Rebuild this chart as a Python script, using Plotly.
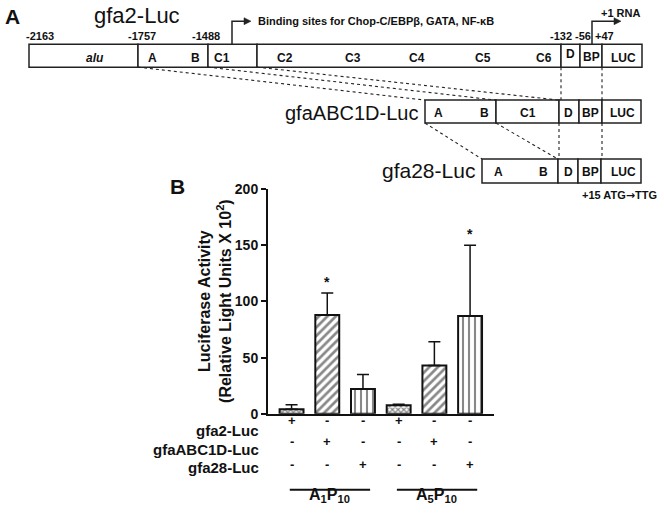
import plotly.graph_objects as go

W, H = 664, 515
FONT = "Arial, Liberation Sans, sans-serif"

# ---------------- data (panel B) ----------------
bar_index = [0, 1, 2, 3, 4, 5]
means = [4, 88, 22, 7.5, 43, 87]
err_top = [8, 107.5, 35, 8.6, 64, 150]
patterns = ["x", "/", "|", "x", "/", "|"]
significant = [False, True, False, False, False, True]
y_ticks = [0, 50, 100, 150, 200]
row_labels = ["gfa2-Luc", "gfaABC1D-Luc", "gfa28-Luc"]
signs = [
    ["+", "-", "-", "+", "-", "-"],
    ["-", "+", "-", "-", "+", "-"],
    ["-", "-", "+", "-", "-", "+"],
]
groups = [("A<sub>1</sub>P<sub>10</sub>", 0, 2), ("A<sub>5</sub>P<sub>10</sub>", 3, 5)]

# ---------------- panel A schematic labels ----------------
c1_name = "gfa2-Luc"
c1_segments = ["<i>alu</i>", "A", "B", "C1", "C2", "C3", "C4", "C5", "C6", "D", "BP", "LUC"]
c1_positions = ["-2163", "-1757", "-1488", "-132", "-56", "+47"]
c2_name = "gfaABC1D-Luc"
c2_segments = ["A", "B", "C1", "D", "BP", "LUC"]
c3_name = "gfa28-Luc"
c3_segments = ["A", "B", "D", "BP", "LUC"]
binding_text = "Binding sites for Chop-C/EBPβ, GATA, NF-κB"
rna_text = "+1 RNA"
mut_text = "+15 ATG<span style='font-family:DejaVu Sans'>→</span>TTG"

# the photographed page maps figure px -> picture px as y' = OFF + SC*y
OFF, SC = 7.8, 0.9699


def px(x):
    return x / W


def fy(t):
    """figure-pixel y for a wanted picture-pixel y"""
    return (t - OFF) / SC


def py(t):
    return 1 - fy(t) / H


shapes = []
annotations = []


def line(x0, y0, x1, y1, dash="solid", width=1.5, color="#222"):
    shapes.append(dict(type="line", xref="paper", yref="paper",
                       x0=px(x0), y0=py(y0), x1=px(x1), y1=py(y1),
                       line=dict(color=color, width=width, dash=dash)))


def rect(x0, y0, x1, y1):
    shapes.append(dict(type="rect", xref="paper", yref="paper",
                       x0=px(x0), y0=py(y0), x1=px(x1), y1=py(y1),
                       line=dict(color="#222", width=1.5), fillcolor="white"))


def text(x, y, t, size=12, bold=True, xanchor="center", yanchor="middle", color="#111"):
    annotations.append(dict(xref="paper", yref="paper", x=px(x), y=py(y),
                            text=("<b>%s</b>" % t) if bold else t, showarrow=False,
                            xanchor=xanchor, yanchor=yanchor,
                            font=dict(family=FONT, size=size, color=color)))


def arrow(xv, ybot, ytop, xend):
    shapes.append(dict(type="path", xref="paper", yref="paper",
                       path="M %f,%f L %f,%f L %f,%f" % (px(xv), py(ybot), px(xv), py(ytop), px(xend - 5), py(ytop)),
                       line=dict(color="#222", width=1.5)))
    shapes.append(dict(type="path", xref="paper", yref="paper",
                       path="M %f,%f L %f,%f L %f,%f Z" % (px(xend - 7), py(ytop - 3.5), px(xend), py(ytop), px(xend - 7), py(ytop + 3.5)),
                       line=dict(color="#222", width=0.5), fillcolor="#222"))


# ---- construct 1 ----
c1_bounds = [29, 138, 208, 257, 561, 580, 602, 642]
for a, b in zip(c1_bounds[:-1], c1_bounds[1:]):
    rect(a, 44, b, 67)
c1_lx = [95, 152, 195, 222, 285, 353, 417, 483, 544, 570, 591, 623]
c1_ly = [58, 58, 58, 58, 58, 58, 58, 58, 58, 54, 57, 58]
for t, x, y in zip(c1_segments, c1_lx, c1_ly):
    text(x, y, t, size=12)
for t, x in zip(c1_positions, [40, 142, 206, 561, 583, 604]):
    text(x, 36, t, size=11)
text(137, 15, c1_name, size=22, bold=False)

# ---- construct 2 ----
c2_bounds = [425, 496, 559, 579, 602, 641]
for a, b in zip(c2_bounds[:-1], c2_bounds[1:]):
    rect(a, 100, b, 123)
for t, x in zip(c2_segments, [438, 484, 528, 568, 590, 622]):
    text(x, 113, t, size=12)
text(420, 113, c2_name, size=20, bold=False, xanchor="right")

# ---- construct 3 ----
c3_bounds = [482, 558, 578, 601, 641]
for a, b in zip(c3_bounds[:-1], c3_bounds[1:]):
    rect(a, 159, b, 183)
for t, x in zip(c3_segments, [498, 543, 568, 590, 623]):
    text(x, 172, t, size=12)
text(477, 170, c3_name, size=21, bold=False, xanchor="right")
text(619, 195, mut_text, size=11)

# ---- dashed connectors ----
for (x0, y0, x1, y1) in [(138, 67, 425, 100), (208, 67, 496, 100), (257, 67, 559, 100),
                         (561, 67, 561, 100), (602, 67, 602, 100),
                         (425, 123, 482, 159), (496, 123, 558, 159),
                         (559, 123, 559, 159), (602, 123, 602, 159)]:
    line(x0, y0, x1, y1, dash="3px,3px", width=1.1)

# ---- arrows ----
arrow(232, 44, 21, 251)
text(256, 21, binding_text, size=11, xanchor="left")
arrow(592, 44, 21, 621)
text(620, 13, rna_text, size=11)

# panel letters
text(3, 16, "A", size=21, xanchor="left")
text(168, 186, "B", size=21, xanchor="left")

# ---------------- panel B bar chart ----------------
fig = go.Figure()
fig.add_trace(go.Bar(
    x=bar_index, y=means, width=0.67,
    marker=dict(color="white",
                line=dict(color="#111", width=2),
                pattern=dict(shape=patterns, fgcolor="#111", bgcolor="white",
                             size=[4, 6, 6, 4, 6, 6], solidity=[0.55, 0.45, 0.35, 0.55, 0.45, 0.35])),
    error_y=dict(type="data", symmetric=False,
                 array=[e - m for e, m in zip(err_top, means)],
                 arrayminus=[0] * len(means),
                 color="#111", thickness=1.5, width=6),
    showlegend=False, hoverinfo="skip",
))

for i, s in enumerate(significant):
    if s:
        annotations.append(dict(xref="x", yref="y", x=bar_index[i], y=err_top[i] + 1,
                                text="<b>*</b>", showarrow=False, yanchor="bottom",
                                font=dict(family=FONT, size=14, color="#111")))

# y title
annotations.append(dict(xref="paper", yref="paper", x=px(215), y=py(301),
                        text="<b>Luciferase Activity<br>(Relative Light Units X 10<sup>2</sup>)</b>",
                        showarrow=False, textangle=-90, xanchor="center", yanchor="middle",
                        font=dict(family=FONT, size=16, color="#111")))

# table of +/- below axis
row_y = [431, 450, 468]
sign_y = [430, 451, 474]
for r, lab in enumerate(row_labels):
    text(261, row_y[r], lab, size=15, xanchor="right")
    for i in bar_index:
        annotations.append(dict(xref="x", yref="paper", x=i, y=py(sign_y[r]),
                                text="<b>%s</b>" % signs[r][i], showarrow=False,
                                font=dict(family=FONT, size=13, color="#111")))

for name, g0, g1 in groups:
    shapes.append(dict(type="line", xref="x", yref="paper", x0=g0 - 0.05, x1=g1 + 0.2,
                       y0=py(490), y1=py(490), line=dict(color="#111", width=2)))
    annotations.append(dict(xref="x", yref="paper", x=(g0 + g1) / 2 + 0.07, y=0,
                            text="<b>%s</b>" % name, showarrow=False, yanchor="bottom",
                            font=dict(family=FONT, size=16, color="#111")))

fig.update_layout(
    width=W, height=H, autosize=False,
    margin=dict(l=0, r=0, t=0, b=0),
    paper_bgcolor="white", plot_bgcolor="white",
    shapes=shapes, annotations=annotations,
    xaxis=dict(domain=[268 / W, 494 / W], range=[-0.66, 5.67],
               showline=True, linecolor="#111", linewidth=2,
               showticklabels=False, ticks="", showgrid=False, zeroline=False),
    yaxis=dict(domain=[py(414), py(189)], range=[0, 200],
               tickvals=y_ticks, ticktext=["<b>%d</b>" % v for v in y_ticks],
               showline=True, linecolor="#111", linewidth=2,
               ticks="outside", ticklen=5, tickwidth=2, tickcolor="#111",
               tickfont=dict(family=FONT, size=14, color="#111"),
               showgrid=False, zeroline=False),
    bargap=0.3,
)

fig.write_html(
    "out.html",
    config={"displayModeBar": False, "staticPlot": True},
    post_script=(
        "var d=document.getElementById('{plot_id}');"
        "d.style.position='fixed';d.style.top='0px';d.style.left='0px';"
        "document.body.style.margin='0';"
        "document.documentElement.style.overflow='hidden';"
        "document.body.style.overflow='hidden';"
    ),
)
